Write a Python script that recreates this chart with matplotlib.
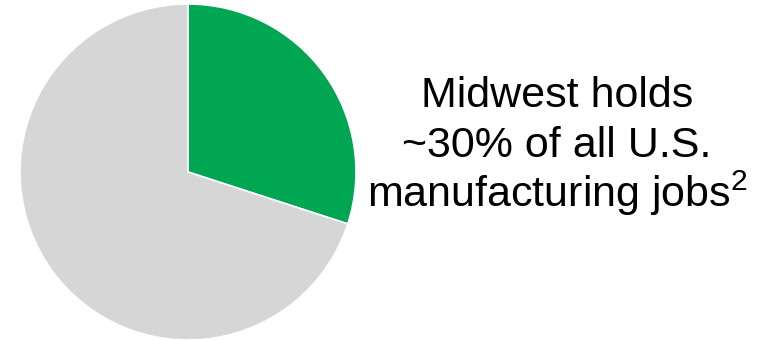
import matplotlib
matplotlib.use("Agg")
import matplotlib.pyplot as plt

# data
labels = ["Midwest", "Rest of U.S."]
shares = [30, 70]
colors = ["#00A651", "#D6D6D6"]
text_lines = ["Midwest holds", "~30% of all U.S.", "manufacturing jobs$^{2}$"]

plt.rcParams["font.family"] = ["Liberation Sans", "DejaVu Sans"]
plt.rcParams["mathtext.fontset"] = "custom"
plt.rcParams["mathtext.rm"] = "Liberation Sans"
plt.rcParams["mathtext.it"] = "Liberation Sans"
plt.rcParams["mathtext.bf"] = "Liberation Sans"

fig = plt.figure(figsize=(7.63, 3.4), dpi=100)
ax = fig.add_axes([20 / 763, 0.0, 336 / 763, 336 / 340])
ax.pie(shares, colors=colors, startangle=90, counterclock=False,
       wedgeprops=dict(edgecolor="white", linewidth=1.2))
ax.set_xlim(-1, 1)
ax.set_ylim(-1, 1)
ax.set_aspect("equal")

# annotation text, one line at a time
baselines = [107, 157, 207]
for line, y in zip(text_lines, baselines):
    fig.text(557 / 763, 1 - y / 340, line, ha="center", va="baseline",
             fontsize=31, color="black")

fig.savefig("out.png", dpi=100)
